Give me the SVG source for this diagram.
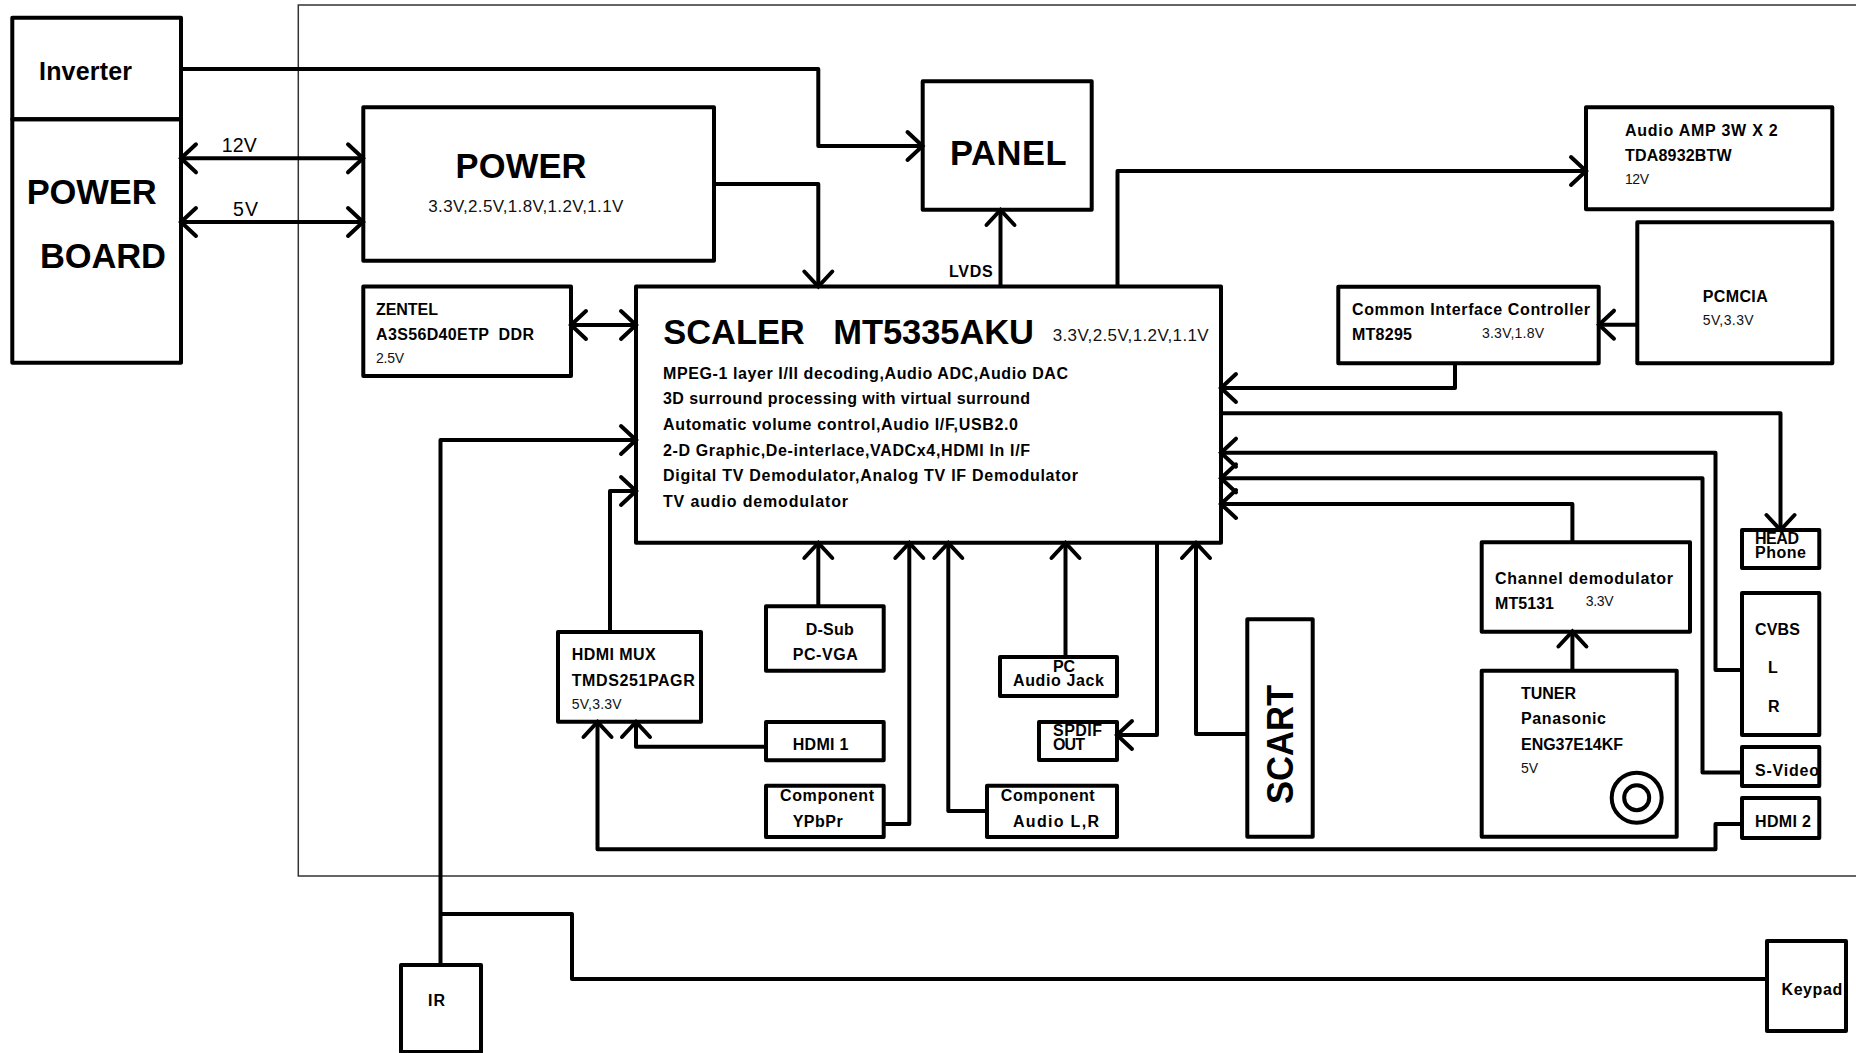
<svg xmlns="http://www.w3.org/2000/svg" width="1856" height="1053" viewBox="0 0 1856 1053">
<style>
rect{fill:none;stroke:#000;stroke-width:4;stroke-linejoin:round}
circle{fill:none;stroke:#000;stroke-width:4}
text{font-family:"Liberation Sans",Arial,sans-serif;fill:#000}
.b{font-weight:700;font-size:16px}
.r{font-size:14px;fill:#111}
.m{font-size:17px;fill:#111}
.l{font-weight:700;font-size:34.5px}
#connectors path{fill:none;stroke:#000;stroke-width:4;stroke-linejoin:round;marker-end:url(#a)}
#connectors path.n{marker-end:none}
#connectors path.d{marker-start:url(#a)}
</style>
<defs><marker id="a" markerUnits="userSpaceOnUse" orient="auto-start-reverse" markerWidth="40" markerHeight="40" refX="20" refY="20" overflow="visible"><path d="M5 6L20 20L5 34" fill="none" stroke="#000" stroke-width="4" stroke-linecap="round"/></marker></defs>
<rect width="1856" height="1053" style="fill:#fff;stroke:none"/>
<path id="frame" d="M1856 5H298.300V876H1856" fill="none" stroke="#333" stroke-width="1.500"/>
<g id="connectors">
<path d="M181 69H818.300V146H922.500"/>
<path class="d" d="M181 158.300H363"/>
<path class="d" d="M181 222H363"/>
<path d="M714 184H818.300V286.500"/>
<path class="d" d="M571 325H636"/>
<path d="M1000.500 286.500V210"/>
<path d="M1117.500 286.500V171H1586"/>
<path d="M1637.300 324.700H1599"/>
<path d="M1455 363V388H1221"/>
<path d="M1221 413.300H1780.500V530"/>
<path d="M1742 670H1715.500V452.700H1221"/>
<path d="M1742 772.500H1702.500V478.300H1221"/>
<path d="M1572.400 542.500V504H1221"/>
<path d="M1572.400 670.700V631.500"/>
<path d="M1742 824H1715.500V849.300H597.500V722"/>
<path d="M610 632V491H636"/>
<path d="M440.500 965V440H636"/>
<path class="n" d="M440.500 914H572V979H1767"/>
<path d="M818.300 606.500V543"/>
<path d="M766 746.700H636V722"/>
<path d="M883.700 824H909.300V543"/>
<path d="M987 811H948.300V543"/>
<path d="M1065.500 657V543"/>
<path d="M1157 543V735H1117"/>
<path d="M1247.300 734H1196V543"/>
</g>
<g id="inverter"><rect x="12.300" y="17.700" width="168.700" height="101.600"/><text x="39" y="80" style="font-size:25px;font-weight:700" textLength="93">Inverter</text></g>
<g id="power-board"><rect x="12.300" y="119.300" width="168.700" height="243.400"/><text class="l" x="26.700" y="204" textLength="130">POWER</text><text class="l" x="40" y="268" textLength="126">BOARD</text></g>
<g id="label-12v"><text x="221.700" y="151.700" style="font-size:19.500px" textLength="35">12V</text></g>
<g id="label-5v"><text x="233" y="215.700" style="font-size:19.500px" textLength="25">5V</text></g>
<g id="power"><rect x="363.300" y="107.300" width="350.700" height="153.400"/><text class="l" x="455.500" y="178" textLength="131">POWER</text><text class="m" x="428.300" y="212.300" textLength="195">3.3V,2.5V,1.8V,1.2V,1.1V</text></g>
<g id="panel"><rect x="922.700" y="81.300" width="169" height="128.400"/><text class="l" x="950" y="165" textLength="116.700">PANEL</text></g>
<g id="audio-amp"><rect x="1586" y="107.300" width="246.300" height="102"/><text class="b" x="1625" y="135.700" textLength="152.700">Audio AMP 3W X 2</text><text class="b" x="1625" y="161" textLength="106.700">TDA8932BTW</text><text class="r" x="1625" y="184.300" textLength="24">12V</text></g>
<g id="pcmcia"><rect x="1637.300" y="222.300" width="195" height="141"/><text class="b" x="1702.700" y="301.700" textLength="65">PCMCIA</text><text class="r" x="1702.700" y="325.300" textLength="51">5V,3.3V</text></g>
<g id="ci"><rect x="1338.300" y="286.700" width="260.400" height="76.600"/><text class="b" x="1352" y="315" textLength="238">Common Interface Controller</text><text class="b" x="1352" y="340" textLength="60">MT8295</text><text class="r" x="1482" y="338.300" textLength="62">3.3V,1.8V</text></g>
<g id="zentel"><rect x="363.300" y="286.500" width="207.700" height="89.500"/><text class="b" x="376" y="315" textLength="62">ZENTEL</text><text class="b" x="376" y="340" textLength="158" xml:space="preserve">A3S56D40ETP  DDR</text><text class="r" x="376" y="363" textLength="28">2.5V</text></g>
<g id="scaler"><rect x="636" y="286.500" width="585" height="256.300"/><text class="l" x="663.300" y="344" textLength="370.700" xml:space="preserve">SCALER   MT5335AKU</text><text class="m" x="1052.700" y="340.700" textLength="156">3.3V,2.5V,1.2V,1.1V</text>
<text class="b" x="663" y="379" textLength="405">MPEG-1 layer I/II decoding,Audio ADC,Audio DAC</text>
<text class="b" x="663" y="404" textLength="367">3D surround processing with virtual surround</text>
<text class="b" x="663" y="430" textLength="355">Automatic volume control,Audio I/F,USB2.0</text>
<text class="b" x="663" y="456" textLength="367">2-D Graphic,De-interlace,VADCx4,HDMI In I/F</text>
<text class="b" x="663" y="481" textLength="415">Digital TV Demodulator,Analog TV IF Demodulator</text>
<text class="b" x="663" y="507" textLength="185">TV audio demodulator</text></g>
<g id="label-lvds"><text class="b" x="949" y="276.700" textLength="43.700">LVDS</text></g>
<g id="hdmi-mux"><rect x="558" y="632" width="143" height="89.700"/><text class="b" x="571.700" y="660" textLength="84">HDMI MUX</text><text class="b" x="571.700" y="686.300" textLength="123">TMDS251PAGR</text><text class="r" x="571.700" y="709" textLength="50">5V,3.3V</text></g>
<g id="dsub"><rect x="766" y="606.300" width="117.700" height="64.400"/><text class="b" x="805.700" y="635" textLength="48">D-Sub</text><text class="b" x="792.700" y="660" textLength="65">PC-VGA</text></g>
<g id="hdmi1"><rect x="766" y="722" width="117.700" height="38.300"/><text class="b" x="792.700" y="750.300" textLength="55.700">HDMI 1</text></g>
<g id="component"><rect x="766" y="785.700" width="117.700" height="51.300"/><text class="b" x="780" y="801" textLength="94">Component</text><text class="b" x="792.700" y="827" textLength="50">YPbPr</text></g>
<g id="pc-audio"><rect x="1000" y="657" width="117" height="39"/><text class="b" x="1053" y="672" textLength="22">PC</text><text class="b" x="1013" y="686" textLength="91">Audio Jack</text></g>
<g id="spdif"><rect x="1039" y="722" width="78" height="38"/><text class="b" x="1053" y="736" textLength="49">SPDIF</text><text class="b" x="1053" y="750" textLength="32">OUT</text></g>
<g id="component-audio"><rect x="987" y="785.700" width="130" height="51.300"/><text class="b" x="1000.700" y="801" textLength="94">Component</text><text class="b" x="1013" y="827" textLength="86">Audio L,R</text></g>
<g id="scart"><rect x="1247.300" y="619.300" width="65.400" height="217.400"/><text transform="translate(1293.300 804) rotate(-90)" style="font-size:36px;font-weight:700" textLength="119" lengthAdjust="spacingAndGlyphs">SCART</text></g>
<g id="channel-demod"><rect x="1481.700" y="542.300" width="208.300" height="89.400"/><text class="b" x="1495" y="584" textLength="178">Channel demodulator</text><text class="b" x="1495" y="609" textLength="59">MT5131</text><text class="r" x="1585.700" y="606" textLength="28">3.3V</text></g>
<g id="tuner"><rect x="1481.700" y="670.700" width="195" height="166"/><text class="b" x="1521" y="699" textLength="55">TUNER</text><text class="b" x="1521" y="724.300" textLength="85">Panasonic</text><text class="b" x="1521" y="750" textLength="102">ENG37E14KF</text><text class="r" x="1521" y="773.300" textLength="17">5V</text><circle cx="1636.700" cy="797.700" r="25"/><circle cx="1636.700" cy="797.700" r="12.500"/></g>
<g id="headphone"><rect x="1742" y="530" width="77.300" height="38"/><text class="b" x="1755" y="544" textLength="44">HEAD</text><text class="b" x="1755" y="558" textLength="51">Phone</text></g>
<g id="cvbs"><rect x="1742" y="593" width="77.300" height="142"/><text class="b" x="1755" y="635" textLength="45">CVBS</text><text class="b" x="1768" y="673">L</text><text class="b" x="1768" y="712">R</text></g>
<g id="svideo"><text class="b" x="1755" y="776" textLength="64">S-Video</text><rect x="1742" y="747" width="77.300" height="39"/></g>
<g id="hdmi2"><rect x="1742" y="798" width="77.300" height="40"/><text class="b" x="1755" y="827" textLength="56">HDMI 2</text></g>
<g id="ir"><rect x="401" y="965" width="80" height="87"/><text class="b" x="428" y="1006" textLength="17">IR</text></g>
<g id="keypad"><rect x="1767" y="941" width="79" height="90"/><text class="b" x="1781.500" y="995" textLength="60.700">Keypad</text></g>
</svg>
